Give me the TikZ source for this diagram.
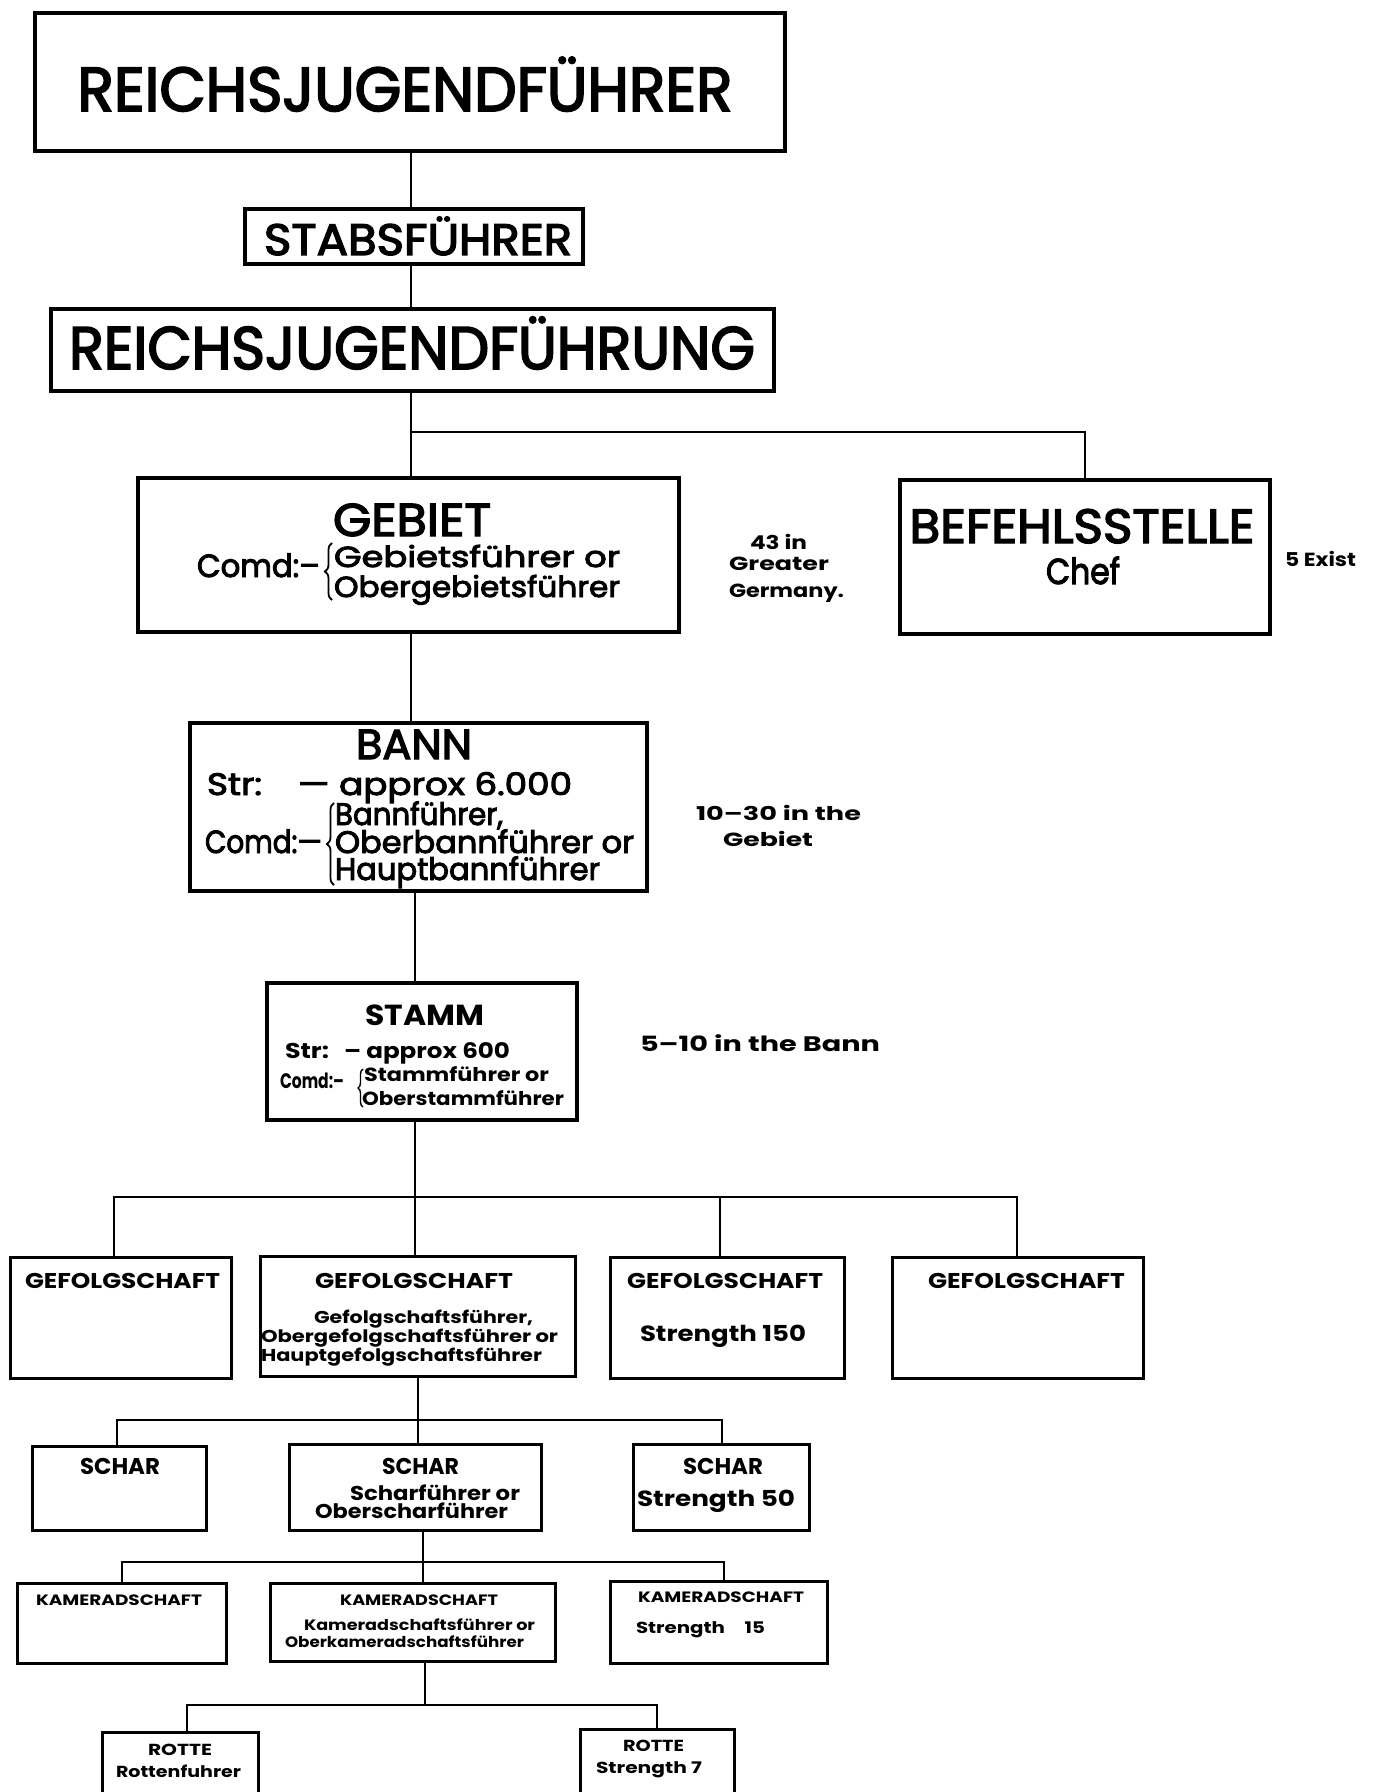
\documentclass[tikz,border=0pt]{standalone}
\usepackage{fontspec}
\setmainfont{Poppins}
\newfontfamily\hv{Poppins}[FakeBold=3]
\usepackage{graphicx}
\usetikzlibrary{fit,decorations.pathreplacing}
\newcommand\fs[1]{\fontsize{#1}{#1}\selectfont}
\newcommand\tl[2]{\resizebox{\dimexpr#1pt/2\relax}{\height}{#2}}
\tikzset{
  txt/.style={inner sep=0pt, outer sep=0pt, anchor=base west},
  ctxt/.style={inner sep=0pt, outer sep=0pt, anchor=base},
  bigbox/.style={draw, line width=1.9pt, inner sep=0pt, outer sep=0pt},
  smbox/.style={draw, line width=1.5pt, inner sep=0pt, outer sep=0pt},
  conn/.style={line width=1.4pt},
  brc/.style={line width=0.9pt, decorate, decoration={brace, amplitude=3.5pt}},
  sbrc/.style={line width=0.7pt, decorate, decoration={brace, amplitude=2.5pt}}
}
\begin{document}
\begin{tikzpicture}[x=0.5pt, y=-0.5pt]
\useasboundingbox (0,0) rectangle (1373,1792);
\fill[white] (0,0) rectangle (1373,1792);
\clip (0,0) rectangle (1373,1792);

% ---- boxes
\node[bigbox, fit={(35,13) (785,151)}] (rjfr) {};
\node[bigbox, fit={(245,209) (583,264)}] (stabs) {};
\node[bigbox, fit={(51,309) (774,391)}] (rjfg) {};
\node[bigbox, fit={(138,478) (679,632)}] (gebiet) {};
\node[bigbox, fit={(900,480) (1270,634)}] (bef) {};
\node[bigbox, fit={(190,723) (647,891)}] (bann) {};
\node[bigbox, fit={(267,983) (577,1120)}] (stamm) {};
\node[smbox, fit={(10,1257) (231,1378)}] (g1) {};
\node[smbox, fit={(260,1256) (575,1376)}] (g2) {};
\node[smbox, fit={(610,1257) (844,1378)}] (g3) {};
\node[smbox, fit={(892,1257) (1143,1378)}] (g4) {};
\node[smbox, fit={(32,1446) (206,1530)}] (s1) {};
\node[smbox, fit={(289,1444) (541,1530)}] (s2) {};
\node[smbox, fit={(633,1444) (809,1530)}] (s3) {};
\node[smbox, fit={(17,1583) (226,1663)}] (k1) {};
\node[smbox, fit={(270,1583) (555,1661)}] (k2) {};
\node[smbox, fit={(610,1581) (827,1663)}] (k3) {};
\node[smbox, fit={(102,1732) (258,1805)}] (r1) {};
\node[smbox, fit={(580,1729) (734,1805)}] (r2) {};

% ---- connectors
\coordinate (ta) at (411,432);
\coordinate (tb) at (415,1197);
\draw[conn] (rjfr.south -| ta) -- (stabs.north -| ta);
\draw[conn] (stabs.south -| ta) -- (rjfg.north -| ta);
\draw[conn] (rjfg.south -| ta) -- (gebiet.north -| ta);
\draw[conn] (ta) -| (bef.north);
\draw[conn] (gebiet.south -| ta) -- (bann.north -| ta);
\draw[conn] (bann.south -| tb) -- (stamm.north -| tb);
\draw[conn] (stamm.south -| tb) -- (g2.north -| tb);
\coordinate (gl) at (114,1197);
\coordinate (gm) at (720,1197);
\coordinate (gr) at (1017,1197);
\draw[conn] (g1.north -| gl) -- (gl) -- (gr) -- (g4.north -| gr);
\draw[conn] (gm) -- (g3.north -| gm);
\coordinate (sc) at (418,1420);
\coordinate (sl) at (117,1420);
\coordinate (sr) at (722,1420);
\draw[conn] (g2.south -| sc) -- (s2.north -| sc);
\draw[conn] (s1.north -| sl) -- (sl) -- (sr) -- (s3.north -| sr);
\coordinate (kc) at (423,1562);
\coordinate (kl) at (122,1562);
\coordinate (kr) at (724,1562);
\draw[conn] (s2.south -| kc) -- (k2.north -| kc);
\draw[conn] (k1.north -| kl) -- (kl) -- (kr) -- (k3.north -| kr);
\coordinate (rc) at (425,1705);
\coordinate (rl) at (187,1705);
\coordinate (rr) at (657,1705);
\draw[conn] (k2.south -| rc) -- (rc);
\draw[conn] (r1.north -| rl) -- (rl) -- (rr) -- (r2.north -| rr);

% ---- top texts
\node[ctxt] (t1) at (405,111) {\hv\fs{31}\tl{655}{REICHSJUGENDFÜHRER}};
\node[ctxt] (t2) at (418,255) {\hv\fs{22}\tl{308}{STABSFÜHRER}};
\node[ctxt] (t3) at (412,369) {\hv\fs{30}\tl{686}{REICHSJUGENDFÜHRUNG}};

% ---- Gebiet
\node[ctxt] (geb) at (412,536) {\hv\fs{23}\tl{158}{GEBIET}};
\node[txt] (gcomd) at (197,577) {\hv\fs{16}\tl{123}{Comd:–}};
\draw[brc] (332,600) -- (332,543);
\node[txt] (gl1) at (334,567) {\hv\fs{14.5}\tl{286}{Gebietsführer or}};
\node[txt] (gl2) at (334,597) {\hv\fs{14.5}\tl{286}{Obergebietsführer}};

% ---- Befehlsstelle
\node[ctxt] (bt) at (1082,543) {\hv\fs{24}\tl{345}{BEFEHLSSTELLE}};
\node[ctxt] (bc) at (1083,584) {\hv\fs{18}\tl{74}{Chef}};

% ---- side notes
\node[txt] (n1a) at (750,549) {\fs{9.5}\bfseries\tl{57}{43 in}};
\node[txt] (n1b) at (729,570) {\fs{9.5}\bfseries\tl{100}{Greater}};
\node[txt] (n1c) at (729,597) {\fs{9.5}\bfseries\tl{115}{Germany.}};
\node[txt] (n2) at (1285,566) {\fs{9.5}\bfseries\tl{71}{5 Exist}};
\node[txt] (n3a) at (696,820) {\fs{9.5}\bfseries\tl{165}{10–30 in the}};
\node[txt] (n3b) at (723,846) {\fs{9.5}\bfseries\tl{90}{Gebiet}};
\node[txt] (n4) at (640,1051) {\fs{10.5}\bfseries\tl{240}{5–10 in the Bann}};

% ---- Bann
\node[ctxt] (bn) at (414,759) {\hv\fs{21}\tl{116}{BANN}};
\node[txt] (bs1) at (207,795) {\hv\fs{15.5}\tl{55}{Str:}};
\node[txt] (bs2) at (298,795) {\hv\fs{15.5}\tl{274}{— approx 6.000}};
\node[txt] (bcomd) at (205,853) {\hv\fs{16}\tl{117}{Comd:—}};
\draw[brc] (334,885) -- (334,803);
\node[txt] (bl1) at (335,825) {\hv\fs{15.5}\tl{168}{Bannführer,}};
\node[txt] (bl2) at (335,853) {\hv\fs{15.5}\tl{299}{Oberbannführer or}};
\node[txt] (bl3) at (335,880) {\hv\fs{15.5}\tl{265}{Hauptbannführer}};

% ---- Stamm
\node[ctxt] (st) at (425,1025) {\fs{14.5}\bfseries\tl{119}{STAMM}};
\node[txt] (ss1) at (285,1058) {\fs{10.7}\bfseries\tl{44}{Str:}};
\node[txt] (ss2) at (344,1058) {\fs{10.7}\bfseries\tl{166}{– approx 600}};
\node[txt] (scomd) at (280,1088) {\fs{10.5}\bfseries\tl{64}{Comd:–}};
\draw[sbrc] (363,1107) -- (363,1069);
\node[txt] (sl1) at (364,1081) {\fs{9.5}\bfseries\tl{185}{Stammführer or}};
\node[txt] (sl2) at (362,1105) {\fs{9.5}\bfseries\tl{202}{Oberstammführer}};

% ---- Gefolgschaft
\node[txt] (g1t) at (25,1288) {\fs{10.7}\bfseries\tl{195}{GEFOLGSCHAFT}};
\node[txt] (g2t) at (315,1288) {\fs{10.7}\bfseries\tl{198}{GEFOLGSCHAFT}};
\node[txt] (g3t) at (627,1288) {\fs{10.7}\bfseries\tl{196}{GEFOLGSCHAFT}};
\node[txt] (g4t) at (928,1288) {\fs{10.7}\bfseries\tl{197}{GEFOLGSCHAFT}};
\node[txt] (g2a) at (314,1323) {\fs{8.6}\bfseries\tl{219}{Gefolgschaftsführer,}};
\node[txt] (g2b) at (261,1342) {\fs{8.6}\bfseries\tl{297}{Obergefolgschaftsführer or}};
\node[txt] (g2c) at (261,1361) {\fs{8.6}\bfseries\tl{281}{Hauptgefolgschaftsführer}};
\node[txt] (g3a) at (640,1341) {\fs{11}\bfseries\tl{166}{Strength 150}};

% ---- Schar
\node[txt] (s1t) at (80,1474) {\fs{11.4}\bfseries\tl{80}{SCHAR}};
\node[txt] (s2t) at (382,1474) {\fs{11.4}\bfseries\tl{77}{SCHAR}};
\node[txt] (s3t) at (683,1474) {\fs{11.4}\bfseries\tl{80}{SCHAR}};
\node[txt] (s2a) at (350,1500) {\fs{10}\bfseries\tl{170}{Scharführer or}};
\node[txt] (s2b) at (315,1518) {\fs{10}\bfseries\tl{193}{Oberscharführer}};
\node[txt] (s3a) at (637,1506) {\fs{11}\bfseries\tl{158}{Strength 50}};

% ---- Kameradschaft
\node[txt] (k1t) at (36,1605) {\fs{7.5}\bfseries\tl{166}{KAMERADSCHAFT}};
\node[txt] (k2t) at (340,1605) {\fs{7.5}\bfseries\tl{158}{KAMERADSCHAFT}};
\node[txt] (k3t) at (638,1602) {\fs{7.5}\bfseries\tl{166}{KAMERADSCHAFT}};
\node[txt] (k2a) at (304,1630) {\fs{7.5}\bfseries\tl{231}{Kameradschaftsführer or}};
\node[txt] (k2b) at (285,1647) {\fs{7.5}\bfseries\tl{239}{Oberkameradschaftsführer}};
\node[txt] (k3a) at (636,1633) {\fs{8}\bfseries\tl{129}{Strength\quad 15}};

% ---- Rotte
\node[txt] (r1t) at (148,1755) {\fs{8}\bfseries\tl{64}{ROTTE}};
\node[txt] (r2t) at (623,1751) {\fs{8}\bfseries\tl{61}{ROTTE}};
\node[txt] (r1a) at (116,1777) {\fs{8}\bfseries\tl{125}{Rottenfuhrer}};
\node[txt] (r2a) at (596,1773) {\fs{8}\bfseries\tl{106}{Strength 7}};
\end{tikzpicture}
\end{document}
